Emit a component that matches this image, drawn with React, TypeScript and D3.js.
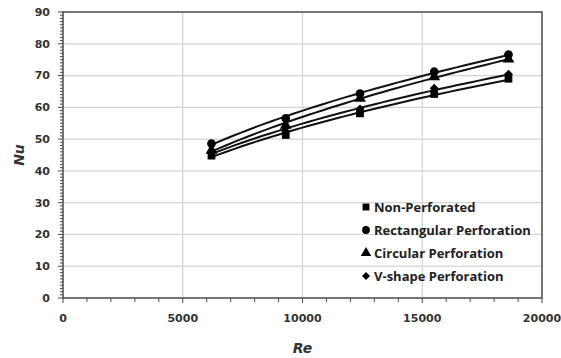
import React from "react";
import * as d3 from "d3";

const reValues = [6200, 9300, 12400, 15500, 18600];
const nonPerforated = [44.8, 51.3, 58.1, 64.2, 69.0];
const rectangular = [48.6, 56.5, 64.3, 71.2, 76.6];
const circular = [46.5, 54.3, 62.8, 69.6, 75.2];
const vShape = [45.8, 52.5, 59.5, 66.0, 70.4];
const seriesNames = ["Non-Perforated", "Rectangular Perforation", "Circular Perforation", "V-shape Perforation"];
const xTicks = [0, 5000, 10000, 15000, 20000];
const yTicks = [0, 10, 20, 30, 40, 50, 60, 70, 80, 90];

const W = 561, H = 358;
const M = { left: 63, right: 542, top: 12, bottom: 298 };

function powerFit(xs: number[], ys: number[]) {
  const lx = xs.map(Math.log), ly = ys.map(Math.log);
  const n = xs.length;
  const mx = d3.mean(lx)!, my = d3.mean(ly)!;
  let num = 0, den = 0;
  for (let i = 0; i < n; i++) { num += (lx[i] - mx) * (ly[i] - my); den += (lx[i] - mx) ** 2; }
  const b = num / den;
  const a = Math.exp(my - b * mx);
  return (x: number) => a * Math.pow(x, b);
}

export default function App() {
  const x = d3.scaleLinear().domain([0, 20000]).range([M.left, M.right]);
  const y = d3.scaleLinear().domain([0, 90]).range([M.bottom, M.top]);
  const series = [nonPerforated, rectangular, circular, vShape];
  const symbols = [d3.symbolSquare, d3.symbolCircle, d3.symbolTriangle, d3.symbolSquare];
  const rotations = [0, 0, 0, 45];
  const sizes = [60, 60, 60, 40];
  const line = d3.line<[number, number]>().x(d => x(d[0])).y(d => y(d[1]));
  const x0 = reValues[0], x1 = reValues[reValues.length - 1];
  const samples = d3.range(0, 41).map(i => x0 + (x1 - x0) * i / 40);
  const minorX = d3.range(0, 20001, 1000);
  const minorY = d3.range(0, 91, 1);
  const legendY = [207, 230, 253, 276];
  const axisColor = "#4a4a4a";
  const textColor = "#333";

  return (
    <svg width={W} height={H} style={{ position: "absolute", left: 0, top: 0, background: "#fff" }}>
      {yTicks.slice(1, -1).map(t => (
        <line key={"gy" + t} x1={M.left} x2={M.right} y1={y(t)} y2={y(t)} stroke="#d4d4d4" strokeWidth={1.2} />
      ))}
      {xTicks.slice(1, -1).map(t => (
        <line key={"gx" + t} x1={x(t)} x2={x(t)} y1={M.top} y2={M.bottom} stroke="#d4d4d4" strokeWidth={1.2} />
      ))}
      <rect x={M.left} y={M.top} width={M.right - M.left} height={M.bottom - M.top} fill="none" stroke={axisColor} strokeWidth={1.5} />
      {minorY.map(t => (
        <line key={"my" + t} x1={M.left - (t % 10 === 0 ? 5 : 3)} x2={M.left} y1={y(t)} y2={y(t)} stroke={axisColor} strokeWidth={1} />
      ))}
      {minorX.map(t => (
        <line key={"mx" + t} x1={x(t)} x2={x(t)} y1={M.bottom} y2={M.bottom + (t % 5000 === 0 ? 5 : 4)} stroke={axisColor} strokeWidth={1} />
      ))}
      {yTicks.map(t => (
        <text key={"ly" + t} x={50} y={y(t)} dy="0.35em" textAnchor="end" fontFamily="DejaVu Sans" fontWeight="bold" fontSize={11} fill={textColor}>{t}</text>
      ))}
      {xTicks.map(t => (
        <text key={"lx" + t} x={x(t)} y={318} dy="0.35em" textAnchor="middle" fontFamily="DejaVu Sans" fontWeight="bold" fontSize={11} fill={textColor}>{t}</text>
      ))}
      <text x={(M.left + M.right) / 2} y={348} dy="0.35em" textAnchor="middle" fontFamily="DejaVu Sans" fontWeight="bold" fontStyle="italic" fontSize={14} fill={textColor}>Re</text>
      <text transform={`translate(19,${(M.top + M.bottom) / 2}) rotate(-90)`} dy="0.35em" textAnchor="middle" fontFamily="DejaVu Sans" fontWeight="bold" fontStyle="italic" fontSize={14} fill={textColor}>Nu</text>
      {series.map((s, i) => {
        const f = powerFit(reValues, s);
        return <path key={"l" + i} d={line(samples.map(v => [v, f(v)] as [number, number]))!} fill="none" stroke="#111" strokeWidth={2} />;
      })}
      {series.map((s, i) => s.map((v, j) => (
        <path key={"m" + i + "-" + j} d={d3.symbol().type(symbols[i]).size(sizes[i])()!} transform={`translate(${x(reValues[j])},${y(v)}) rotate(${rotations[i]})`} fill="#000" />
      )))}
      {seriesNames.map((n, i) => (
        <g key={"lg" + i} transform={`translate(366,${legendY[i]})`}>
          <path d={d3.symbol().type(symbols[i]).size(sizes[i] * 0.8)()!} transform={`rotate(${rotations[i]})`} fill="#000" />
          <text x={8} dy="0.35em" fontFamily="Open Sans" fontWeight="bold" fontSize={13} fill="#222">{n}</text>
        </g>
      ))}
    </svg>
  );
}
